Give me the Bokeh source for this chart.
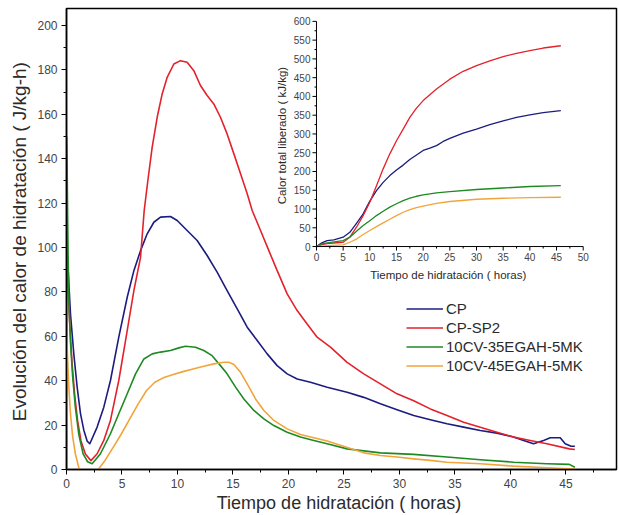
import math
from bokeh.plotting import figure
from bokeh.models import Range1d, SingleIntervalTicker, Legend, LegendItem
from bokeh.core.properties import value
from bokeh.embed import file_html
from bokeh.resources import INLINE

# ---------------- main chart data: heat evolution rate (J/kg-h) ----------------
cp_t = [0, 0.12, 0.36, 0.66, 0.96, 1.26, 1.56, 1.86, 2.1, 2.76, 3.36, 3.96, 4.71, 5.47, 6.07,
        6.67, 7.27, 7.87, 8.47, 9.37, 9.97, 10.87, 11.77, 12.67, 13.57, 14.47, 15.38, 16.28,
        17.18, 18.08, 18.98, 19.88, 20.78, 21.98, 23.48, 25.28, 26.78, 28.28, 29.78, 31.28,
        32.78, 34.28, 35.78, 37.28, 38.78, 40.28, 41.18, 42.08, 42.98, 43.58, 44.48, 44.93,
        45.46, 45.8]
cp_v = [100, 92.6, 70, 52, 37.1, 25.2, 17.7, 12.8, 11.6, 19.1, 28.1, 40.1, 59.6, 77.6, 89.6,
        98.6, 106.2, 111.4, 113.7, 114, 112.2, 107.7, 103.2, 96.4, 88.9, 80.6, 72.4, 64.1,
        58.1, 52.1, 46.8, 43.1, 40.8, 39.3, 37.1, 34.8, 32.5, 29.6, 26.9, 24.3,
        22.4, 20.6, 19.1, 17.6, 16.4, 14.6, 13.1, 11.6, 13.1, 14.3, 14.3, 11.6,
        10.5, 10.5]

sp2_t = [0, 0.05, 0.15, 0.3, 0.5, 0.75, 1.0, 1.3, 1.7, 2.2, 2.76, 3.36, 3.96, 4.71, 5.47, 6.07,
         6.67, 7.0, 7.33, 7.72, 8.17, 8.62, 9.07, 9.67, 10.27, 10.87, 11.47, 12.07, 12.67,
         13.27, 13.87, 14.47, 15.08, 15.68, 16.28, 16.73, 17.48, 18.23, 18.98, 19.88, 20.78,
         21.68, 22.58, 23.78, 25.28, 26.78, 28.28, 29.78, 31.28, 32.78, 34.28, 35.78, 37.28,
         38.78, 40.28, 41.78, 43.28, 45.3, 45.8]
sp2_v = [100, 90, 80, 65, 48, 33, 22, 13, 7, 4, 7.1, 13.1, 22.1, 40.1, 62.6, 80.6,
         95.6, 116.7, 130.2, 145.2, 158.7, 169.2, 176.7, 182.7, 184.2, 183.5, 179.7, 173, 168.5,
         164.7, 158.7, 151.2, 142.2, 133.2, 124.2, 116.7, 107.7, 98.6, 89.6, 79.1, 71.6,
         65.6, 59.6, 55.1, 48.3, 43.1, 38.6, 34.1, 31, 27.3, 24.3, 21.3, 19,
         16.8, 14.6, 13.1, 11.6, 9.3, 9]

g35_t = [0, 0.02, 0.05, 0.1, 0.15, 0.22, 0.35, 0.55, 0.8, 1.1, 1.5, 1.9, 2.31, 3.06, 3.96,
         4.71, 5.47, 6.22, 6.97, 7.72, 8.47, 9.37, 10.12, 10.72, 11.62, 12.37, 13.12, 13.87,
         14.47, 15.23, 15.98, 16.88, 17.78, 18.68, 19.88, 21.08, 22.28, 23.48, 25.28, 28.28,
         31.28, 34.28, 37.28, 40.28, 43.28, 45.3, 45.8]
g35_v = [0, 150, 140, 115, 95, 75, 58, 42, 28, 16, 7, 3.5, 2.6, 7.1, 16.1,
         25.1, 34.1, 43.1, 49.8, 52.1, 52.9, 53.6, 54.8, 55.5, 55.1, 53.6, 51.3, 46.8,
         43.1, 37.1, 31.8, 26.6, 22.8, 19.8, 16.8, 14.6, 13.1, 11.6, 9.3, 7.5,
         6.8, 5.6, 4.4, 3.3, 2.6, 2.3, 1.0]

g45_t = [0, 0.02, 0.1, 0.2, 0.36, 0.55, 0.8, 1.1, 1.5, 2.2, 2.87, 3.47, 4.22, 4.95, 5.7, 6.46,
         7.21, 7.96, 8.71, 9.61, 10.5, 11.4, 12.37, 13.27, 14.17, 14.62, 15.08, 15.68, 16.28,
         17.03, 17.78, 18.68, 19.88, 21.08, 22.28, 23.48, 24.68, 26.78, 28.28, 29.78, 31.28,
         32.78, 34.28, 37.28, 40.28, 43.28, 45.3, 45.8]
g45_v = [0, 60, 50, 38, 25, 15, 7, 1, -3, -5, 0.1, 4.1, 10.1, 16.1, 22.8, 29.6,
         35.6, 39.3, 41.3, 42.8, 44.1, 45.3, 46.5, 47.6, 48.3, 48.3, 47.3, 43.8, 38.6,
         31.8, 26.6, 22.1, 18.3, 15.8, 14.3, 12.8, 10.9, 7.5, 6.3, 5.6, 4.8,
         4.1, 3.3, 2.6, 1.5, 0.8, 0.3, 0.2]

series_names = ["CP", "CP-SP2", "10CV-35EGAH-5MK", "10CV-45EGAH-5MK"]
series_colors = ["#1c1c80", "#e3222b", "#1e8a22", "#f2a43a"]

# ---------------- inset data: total heat released (kJ/kg) ----------------
ins_cp_t = [0, 1, 2, 3.25, 5, 6.25, 7.5, 8.75, 10, 11.25, 12.5, 13.75, 15, 16.25, 17.5, 18.75,
            20, 21.25, 22.5, 23.75, 25, 27.5, 30, 32.5, 35, 37.5, 40, 42.5, 45.8]
ins_cp_v = [0, 9.8, 16, 17.8, 24.9, 38, 62, 87, 121, 149, 171, 189, 204, 217, 232, 244,
            256, 262, 269, 280, 288, 302, 313, 325, 335, 344, 351, 357, 362]
ins_sp2_t = [0, 1, 2, 3.25, 5, 6.25, 7.5, 8.75, 10, 11.25, 12.5, 13.75, 15, 16.25, 17.5, 18.75,
             20, 22.5, 25, 27.5, 30, 32.5, 35, 37.5, 40, 42.5, 45.8]
ins_sp2_v = [0, 5, 8, 9.5, 11.5, 24.9, 51.5, 82.5, 118, 162, 207, 247, 282, 313, 344, 369,
             389, 420, 446, 467, 482, 495, 506, 515, 522, 529, 535]
ins_g35_t = [0, 1, 2, 5, 6.25, 7.5, 8.75, 10, 11.25, 12.5, 13.75, 15, 16.25, 17.5, 18.75, 20,
             22.5, 25, 30, 35, 40, 45.8]
ins_g35_v = [0, 7, 10, 16, 25, 41, 56, 69, 82.5, 94, 105, 114, 122.5, 129, 134, 137.6,
             143, 146.4, 152, 156, 160, 162.4]
ins_g45_t = [0, 2, 5, 6.25, 7.5, 8.75, 10, 11.25, 12.5, 13.75, 15, 16.25, 17.5, 18.75, 20,
             22.5, 25, 30, 35, 40, 45.8]
ins_g45_v = [0, 2.7, 4.4, 11.5, 20, 32, 42.6, 53, 63, 72.8, 82.5, 91.4, 98.5, 104, 108,
             115, 120, 126, 128.7, 130.5, 131.4]

ins_xticks = [0, 5, 10, 15, 20, 25, 30, 35, 40, 45, 50]
ins_xminor = [2.5, 7.5, 12.5, 17.5, 22.5, 27.5, 32.5, 37.5, 42.5, 47.5]
ins_yticks = [0, 50, 100, 150, 200, 250, 300, 350, 400, 450, 500, 550, 600]
ins_yminor = [25, 75, 125, 175, 225, 275, 325, 375, 425, 475, 525, 575]
ins_xlim = (0, 50)
ins_ylim = (0, 600)

FONT = "Liberation Sans"
TXT = "#2b2b2b"
TICKC = "#444444"

p = figure(width=619, height=515, output_backend="svg", toolbar_location=None,
           x_range=Range1d(0, 49.55), y_range=Range1d(0, 207.7),
           min_border_left=66, min_border_right=3, min_border_top=8, min_border_bottom=46)
p.background_fill_color = "white"
p.border_fill_color = "white"
p.outline_line_color = "black"
p.outline_line_width = 1.5
p.grid.visible = False

p.xaxis.ticker = SingleIntervalTicker(interval=5, num_minor_ticks=2)
p.yaxis.ticker = SingleIntervalTicker(interval=20, num_minor_ticks=2)
for ax in (p.xaxis[0], p.yaxis[0]):
    ax.axis_line_color = "black"
    ax.axis_line_width = 1.5
    ax.major_tick_in = 0
    ax.major_tick_out = 5
    ax.minor_tick_in = 0
    ax.minor_tick_out = 3
    ax.major_tick_line_color = "black"
    ax.minor_tick_line_color = "black"
    ax.major_label_text_font = FONT
    ax.major_label_text_font_size = "12px"
    ax.major_label_text_color = TICKC
    ax.axis_label_text_font = FONT
    ax.axis_label_text_font_style = "normal"
    ax.axis_label_text_color = TXT
    ax.major_label_standoff = 4
    ax.axis_label_standoff = 4

p.xaxis.axis_label = "Tiempo de hidratación  ( horas)"
p.xaxis.axis_label_text_font_size = "18px"
p.yaxis.axis_label = "Evolución del calor de hidratación  ( J/kg-h)"
p.yaxis.axis_label_text_font_size = "19px"
p.xaxis.axis_label_standoff = 2

main_data = [(cp_t, cp_v), (sp2_t, sp2_v), (g35_t, g35_v), (g45_t, g45_v)]
renderers = []
for (t, v), c in zip(main_data, series_colors):
    renderers.append(p.line(t, v, line_color=c, line_width=1.6, line_join="round"))

legend = Legend(items=[LegendItem(label=n, renderers=[r]) for n, r in zip(series_names, renderers)],
                location=(340, 94), padding=0, margin=0, spacing=0,
                glyph_width=37, glyph_height=19, label_height=19, label_standoff=3,
                label_text_font=FONT, label_text_font_size="15px", label_text_color=TXT,
                border_line_alpha=0, background_fill_alpha=0)
p.add_layout(legend)

# ---------------- inset via sub-coordinates ----------------
xy = p.subplot(x_source=Range1d(*ins_xlim), y_source=Range1d(*ins_ylim),
               x_target=Range1d(22.52, 46.55), y_target=Range1d(100.45, 201.9))

ins_series = [(ins_cp_t, ins_cp_v), (ins_sp2_t, ins_sp2_v), (ins_g35_t, ins_g35_v), (ins_g45_t, ins_g45_v)]
for (t, v), c in zip(ins_series, series_colors):
    xy.line(t, v, line_color=c, line_width=1.3, line_join="round")

# axis lines
xy.segment(x0=[ins_xlim[0]], y0=[ins_ylim[0]], x1=[ins_xlim[1]], y1=[ins_ylim[0]],
           line_color="black", line_width=1)
xy.segment(x0=[ins_xlim[0]], y0=[ins_ylim[0]], x1=[ins_xlim[0]], y1=[ins_ylim[1]],
           line_color="black", line_width=1)
# ticks
xy.ray(x=ins_xticks, y=[ins_ylim[0]] * len(ins_xticks), length=4, length_units="screen",
       angle=-math.pi / 2, line_color="black", line_width=1)
xy.ray(x=ins_xminor, y=[ins_ylim[0]] * len(ins_xminor), length=2, length_units="screen",
       angle=-math.pi / 2, line_color="black", line_width=1)
xy.ray(x=[ins_xlim[0]] * len(ins_yticks), y=ins_yticks, length=4, length_units="screen",
       angle=math.pi, line_color="black", line_width=1)
xy.ray(x=[ins_xlim[0]] * len(ins_yminor), y=ins_yminor, length=2, length_units="screen",
       angle=math.pi, line_color="black", line_width=1)
# tick labels
xy.text(x=ins_xticks, y=[ins_ylim[0]] * len(ins_xticks), text=[str(t) for t in ins_xticks],
        y_offset=6, text_align="center", text_baseline="top",
        text_font=value(FONT), text_font_size="10px", text_color=TICKC)
xy.text(x=[ins_xlim[0]] * len(ins_yticks), y=ins_yticks, text=[str(t) for t in ins_yticks],
        x_offset=-6, text_align="right", text_baseline="middle",
        text_font=value(FONT), text_font_size="10px", text_color=TICKC)
# axis titles
xy.text(x=[sum(ins_xlim) / 2], y=[ins_ylim[0]], text=["Tiempo de hidratación  ( horas)"],
        y_offset=22, text_align="center", text_baseline="top",
        text_font=value(FONT), text_font_size="11.5px", text_color=TXT)
xy.text(x=[ins_xlim[0]], y=[sum(ins_ylim) / 2], text=["Calor total liberado  ( kJ/kg)"],
        x_offset=-34, angle=math.pi / 2, text_align="center", text_baseline="middle",
        text_font=value(FONT), text_font_size="11.5px", text_color=TXT)

open("out.html", "w").write(file_html(p, INLINE))
